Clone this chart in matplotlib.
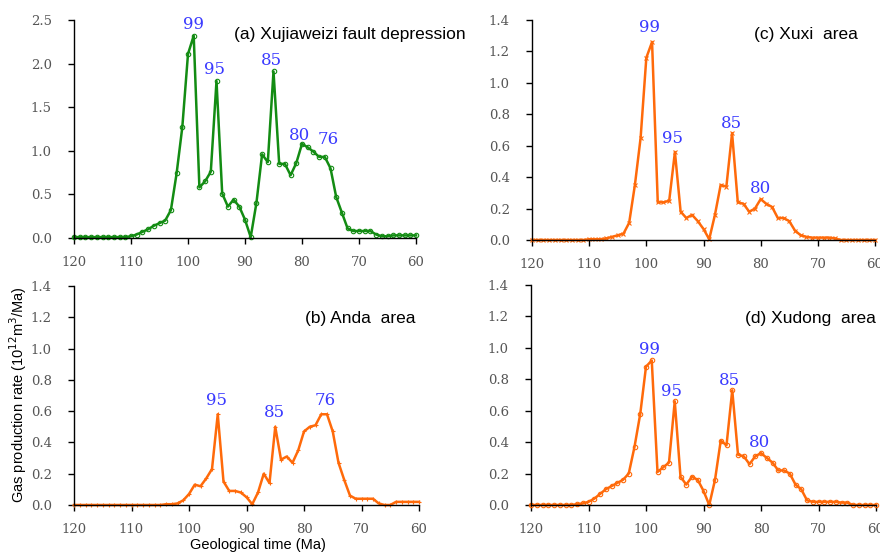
import matplotlib
matplotlib.use("Agg")
import matplotlib.pyplot as plt
import numpy as np

# geological time, 120 Ma -> 60 Ma, one point per Ma
ages = np.arange(120, 59, -1)

# (a) Xujiaweizi fault depression
rate_a = [0.01, 0.01, 0.01, 0.01, 0.01, 0.01, 0.01, 0.01, 0.01, 0.01,
          0.02, 0.04, 0.07, 0.10, 0.14, 0.17, 0.20, 0.32, 0.74, 1.27,
          2.11, 2.32, 0.58, 0.65, 0.76, 1.80, 0.51, 0.36, 0.44, 0.36,
          0.21, 0.01, 0.40, 0.96, 0.87, 1.91, 0.85, 0.85, 0.72, 0.86,
          1.08, 1.04, 0.99, 0.93, 0.93, 0.80, 0.47, 0.29, 0.11, 0.08,
          0.08, 0.08, 0.08, 0.04, 0.02, 0.02, 0.03, 0.03, 0.03, 0.03, 0.03]
# (b) Anda area
rate_b = [0.0, 0.0, 0.0, 0.0, 0.0, 0.0, 0.0, 0.0, 0.0, 0.0,
          0.0, 0.0, 0.0, 0.0, 0.0, 0.0, 0.005, 0.005, 0.01, 0.03,
          0.07, 0.13, 0.12, 0.17, 0.23, 0.58, 0.15, 0.09, 0.09, 0.08,
          0.05, 0.005, 0.08, 0.20, 0.14, 0.50, 0.29, 0.31, 0.27, 0.35,
          0.47, 0.50, 0.51, 0.58, 0.58, 0.47, 0.27, 0.16, 0.06, 0.04,
          0.04, 0.04, 0.04, 0.01, 0.0, 0.0, 0.02, 0.02, 0.02, 0.02, 0.02]
# (c) Xuxi area
rate_c = [0.0, 0.0, 0.0, 0.0, 0.0, 0.0, 0.0, 0.0, 0.0, 0.0,
          0.005, 0.005, 0.005, 0.01, 0.02, 0.03, 0.04, 0.11, 0.35, 0.65,
          1.16, 1.26, 0.24, 0.24, 0.25, 0.56, 0.18, 0.14, 0.16, 0.12,
          0.07, 0.005, 0.16, 0.35, 0.34, 0.68, 0.24, 0.23, 0.18, 0.20,
          0.26, 0.23, 0.21, 0.14, 0.14, 0.12, 0.06, 0.03, 0.02, 0.015,
          0.015, 0.015, 0.015, 0.01, 0.0, 0.0, 0.0, 0.0, 0.0, 0.0, 0.0]
# (d) Xudong area
rate_d = [0.0, 0.0, 0.0, 0.0, 0.0, 0.0, 0.0, 0.0, 0.005, 0.01,
          0.02, 0.04, 0.07, 0.10, 0.12, 0.14, 0.16, 0.20, 0.37, 0.58,
          0.88, 0.92, 0.21, 0.24, 0.27, 0.66, 0.18, 0.13, 0.18, 0.16,
          0.09, 0.0, 0.16, 0.41, 0.38, 0.73, 0.32, 0.31, 0.26, 0.31,
          0.33, 0.30, 0.27, 0.22, 0.22, 0.20, 0.13, 0.10, 0.03, 0.02,
          0.02, 0.02, 0.02, 0.02, 0.015, 0.015, 0.0, 0.0, 0.0, 0.0, 0.0]

titles = ["(a) Xujiaweizi fault depression", "(b) Anda  area",
          "(c) Xuxi  area", "(d) Xudong  area"]
# peak labels: (text, x, y)
peaks_a = [("99", 99.0, 2.45), ("95", 95.3, 1.93), ("85", 85.3, 2.04),
           ("80", 80.5, 1.17), ("76", 75.4, 1.13)]
peaks_b = [("95", 95.3, 0.665), ("85", 85.2, 0.59), ("76", 76.3, 0.665)]
peaks_c = [("99", 99.4, 1.35), ("95", 95.4, 0.645), ("85", 85.2, 0.74),
           ("80", 80.1, 0.33)]
peaks_d = [("99", 99.4, 0.99), ("95", 95.6, 0.72), ("85", 85.5, 0.79),
           ("80", 80.2, 0.40)]

green = "#138c13"
orange = "#ff6a0a"
blue = "#3a3aff"
W, H = 880, 554

fig = plt.figure(figsize=(8.8, 5.54), dpi=100)

def px_axes(left, top, right, bottom):
    return fig.add_axes([left / W, 1 - bottom / H, (right - left) / W, (bottom - top) / H])

panels = [
    # box, data, colour, marker, ylim, yticks, peaks, title, title pos (px)
    ((74, 20, 416, 238), rate_a, green, "o", 2.5, np.arange(0, 2.51, 0.5), peaks_a, titles[0], (466, 35)),
    ((74, 286, 419, 505), rate_b, orange, "+", 1.4, np.arange(0, 1.41, 0.2), peaks_b, titles[1], (415, 319)),
    ((532, 20, 875, 240), rate_c, orange, "x", 1.4, np.arange(0, 1.41, 0.2), peaks_c, titles[2], (858, 35)),
    ((531, 285, 876, 505), rate_d, orange, "o", 1.4, np.arange(0, 1.41, 0.2), peaks_d, titles[3], (876, 319)),
]

for box, vals, col, mk, ymax, yt, peaks, title, tpos in panels:
    ax = px_axes(*box)
    ax.plot(ages, vals, color=col, lw=1.8, marker=mk, ms=3.2, mew=0.8,
            mfc="none" if mk == "o" else col, clip_on=False)
    ax.set_xlim(120, 60)
    ax.set_ylim(0, ymax)
    ax.set_xticks(np.arange(120, 59, -10))
    ax.set_yticks(yt)
    ax.set_yticklabels(["%.1f" % v for v in yt])
    for s in ["top", "right"]:
        ax.spines[s].set_visible(False)
    for s in ["left", "bottom"]:
        ax.spines[s].set_linewidth(1.0)
    ax.tick_params(direction="out", length=4, width=1, labelsize=9.5, labelcolor="#555555")
    for lab in ax.get_xticklabels() + ax.get_yticklabels():
        lab.set_family("DejaVu Serif")
    ax.yaxis.set_tick_params(pad=12)
    ax.xaxis.set_tick_params(pad=9)
    for txt, x, y in peaks:
        ax.text(x, y, txt, color=blue, fontsize=12, family="DejaVu Serif",
                ha="center", va="center")
    fig.text(tpos[0] / W, 1 - tpos[1] / H, title, fontsize=12.5,
             family="Liberation Sans", ha="right", va="center")

fig.text(18 / W, 1 - 395 / H, "Gas production rate (10$^{12}$m$^3$/Ma)",
         rotation=90, fontsize=10.5, family="Liberation Sans", ha="center", va="center")
fig.text(258 / W, 1 - 545 / H, "Geological time (Ma)", fontsize=10.5,
         family="Liberation Sans", ha="center", va="center")

fig.savefig("out.png", dpi=100)
